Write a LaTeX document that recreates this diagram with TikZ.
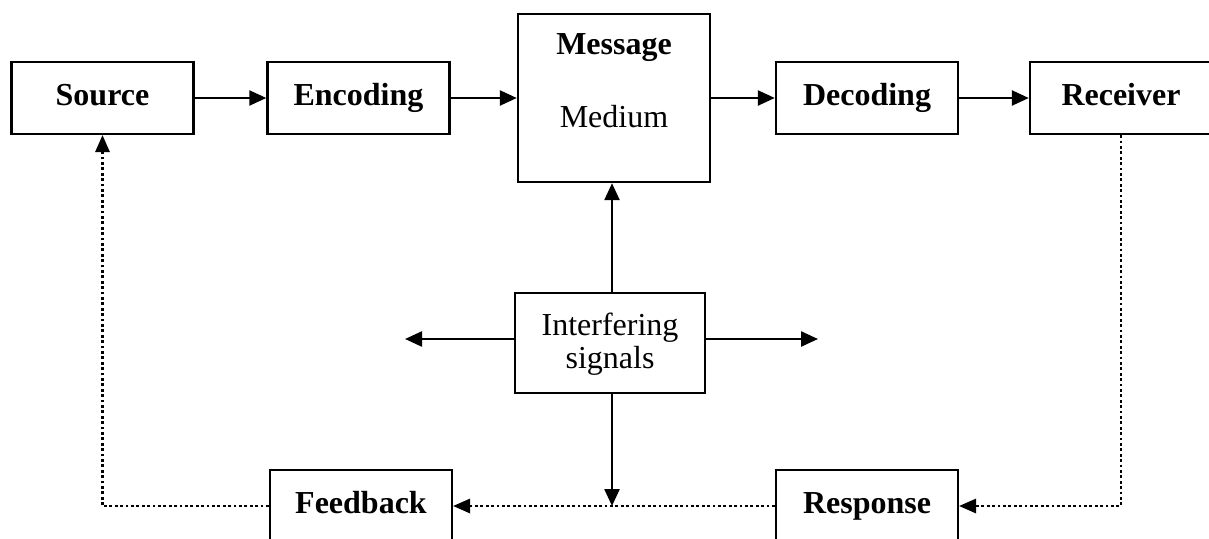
\documentclass[tikz,border=0pt]{standalone}
\usepackage{fontspec}
\setmainfont{Liberation Serif}
\usetikzlibrary{arrows.meta}
\begin{document}
\begin{tikzpicture}[x=1pt,y=-1pt,
  boxnode/.style={draw,line width=2.4pt,minimum width=182pt,minimum height=72pt,inner sep=0pt,text height=22pt,text depth=7pt,font=\fontsize{32}{34}\selectfont\bfseries},
  lbl/.style={inner sep=0pt,text height=22pt,text depth=7pt,font=\fontsize{32}{34}\selectfont},
  conn/.style={line width=2.4pt,-{Triangle[length=17pt,width=15pt]}},
  dotline/.style={line width=2.8pt,dash pattern=on 2.8pt off 2.6pt},
  dotarrow/.style={dotline,-{Triangle[length=17pt,width=15pt,line width=0pt,sep=0pt]}}
]
\useasboundingbox (0,0) rectangle (1209,538);
\node[boxnode] (src) at (102.5,98) {Source};
\node[boxnode] (enc) at (358.5,98) {Encoding};
\node[boxnode,minimum width=192pt,minimum height=168pt,text height=0pt,text depth=0pt] (msg) at (614,98) {};
\node[lbl,font=\fontsize{32}{34}\selectfont\bfseries] (msgt) at (614,47) {Message};
\node[lbl] (medt) at (614,120) {Medium};
\node[boxnode] (dec) at (867,98) {Decoding};
\node[boxnode] (rcv) at (1121,98) {Receiver};
\node[boxnode,minimum width=190pt,minimum height=100pt,text height=0pt,text depth=0pt,font=\fontsize{32}{34}\selectfont] (intf) at (610,343) {};
\node[lbl] (intt1) at (610,328) {Interfering};
\node[lbl] (intt2) at (610,361) {signals};
\node[boxnode] (fb) at (361,506) {Feedback};
\node[boxnode] (resp) at (867,506) {Response};

\coordinate (lft) at (405,339);
\coordinate (rgt) at (818,339);
\coordinate (mid) at (612,506);
\coordinate (rc) at (1121,506);
\coordinate (sc) at (102.5,506);

\draw[conn] (src.east) -- (enc.west);
\draw[conn] (enc.east) -- (msg.west);
\draw[conn] (msg.east) -- (dec.west);
\draw[conn] (dec.east) -- (rcv.west);
\draw[conn] (intf.north -| mid) -- (msg.south -| mid);
\draw[conn] (intf.west |- lft) -- (lft);
\draw[conn] (intf.east |- rgt) -- (rgt);
\draw[conn] (intf.south -| mid) -- (mid);
\draw[dotarrow] (rcv.south) -- (rc) -- (resp.east);
\draw[dotarrow] (resp.west) -- (fb.east);
\draw[dotarrow] (fb.west) -- (sc) -- (src.south);
\end{tikzpicture}
\end{document}
